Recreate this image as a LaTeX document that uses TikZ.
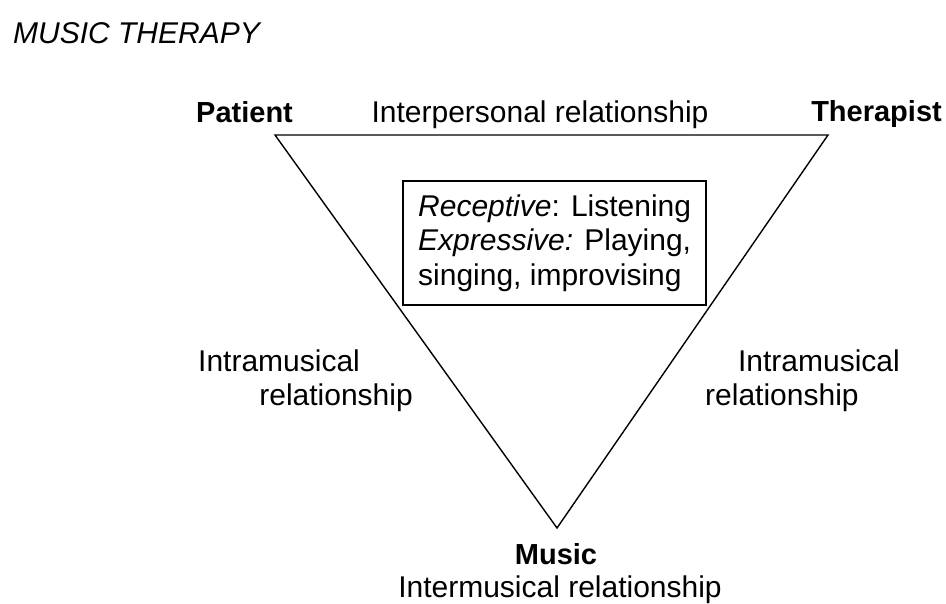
\documentclass[tikz,border=0pt]{standalone}
\usepackage{fontspec}
\setmainfont{Liberation Sans}
\begin{document}
\begin{tikzpicture}[x=1pt,y=-1pt,
  lbl/.style={inner sep=0pt,font=\fontsize{30}{34}\selectfont},
  bold/.style={inner sep=0pt,font=\fontsize{29}{34}\selectfont\bfseries},
  edge/.style={line width=1.4pt,line join=miter}]
\useasboundingbox (0,0) rectangle (946,604);
\node[inner sep=0pt,anchor=base west,font=\fontsize{30}{34}\selectfont\itshape] (title) at (13,44) {MUSIC THERAPY};
\coordinate (P) at (275,135);
\coordinate (T) at (828,135);
\coordinate (M) at (557,528);
\draw[edge] (P) -- (T) -- (M) -- cycle;
\node[bold,anchor=base west] (patient) at (196,123) {Patient};
\node[bold,anchor=base east] (therapist) at (942,122) {Therapist};
\node[lbl,anchor=base] (inter) at (540,123) {Interpersonal relationship};
\node[draw,line width=1.4pt,inner sep=0pt,minimum width=303pt,minimum height=124pt] (box) at (554.5,243) {};
\node[lbl,anchor=base west] (r1) at (418,217) {\textit{Receptive}: Listening};
\node[lbl,anchor=base west] (r2) at (418,251) {\textit{Expressive:} Playing,};
\node[lbl,anchor=base west] (r3) at (418,286) {singing, improvising};
\node[lbl,anchor=base west] (li1) at (198,371) {Intramusical};
\node[lbl,anchor=base east] (li2) at (413,405) {relationship};
\node[lbl,anchor=base east] (ri1) at (900,371) {Intramusical};
\node[lbl,anchor=base west] (ri2) at (705,405) {relationship};
\node[bold,anchor=base] (music) at (556,564) {Music};
\node[lbl,anchor=base] (intermus) at (560,597) {Intermusical relationship};
\end{tikzpicture}
\end{document}
